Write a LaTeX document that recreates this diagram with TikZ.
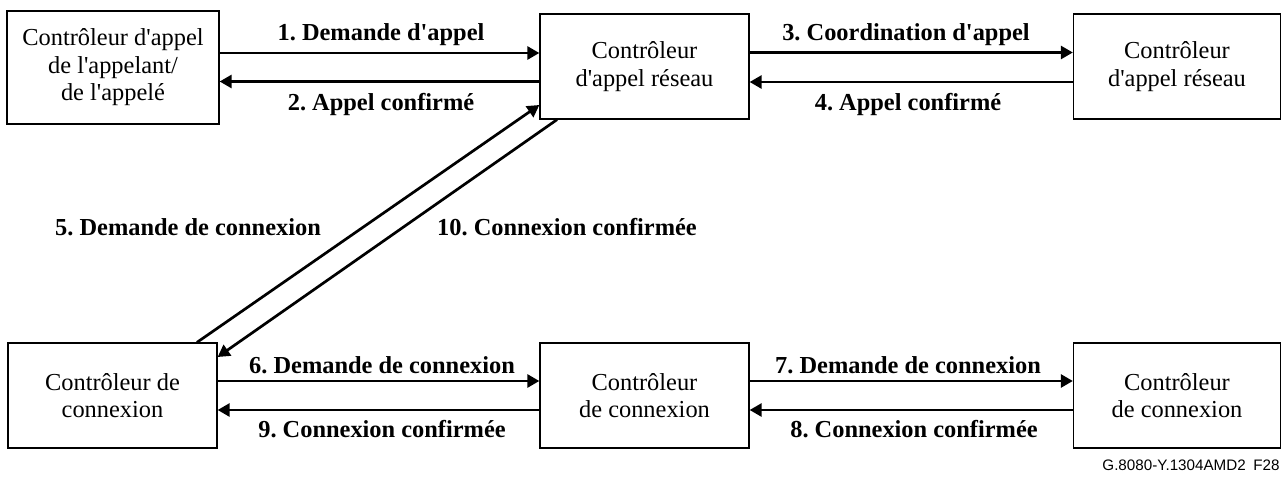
\documentclass[tikz,border=0pt]{standalone}
\usepackage{fontspec}
\setmainfont{Liberation Serif}[Ligatures=TeXOff]
\setsansfont{Liberation Sans}[Ligatures=TeXOff]
\usetikzlibrary{arrows.meta}
\frenchspacing
\begin{document}
\begin{tikzpicture}[x=0.5pt,y=-0.5pt,
  box/.style={draw, line width=0.65pt, inner sep=0pt, align=center,
    minimum height=52.5pt, font=\fontsize{12.2}{13.8}\selectfont},
  msg/.style={anchor=base, inner sep=0pt, font=\fontsize{12.2}{14}\selectfont\bfseries},
  flow/.style={line width=1.35pt, -{Triangle[length=6pt,width=6.5pt]}}]
\useasboundingbox (0,0) rectangle (1282,477);

% controllers
\node[box, minimum width=106pt, minimum height=56.5pt] (A) at (113,67.5)
  {Contrôleur d'appel\\de l'appelant/\\de l'appelé};
\node[box, minimum width=104.5pt] (B) at (644.5,66.5) {Contrôleur\\d'appel réseau};
\node[box, minimum width=103.5pt] (C) at (1177,66.5) {Contrôleur\\d'appel réseau};
\node[box, minimum width=104.5pt] (D) at (112.5,395.5) {Contrôleur de\\connexion};
\node[box, minimum width=104.5pt] (E) at (644.5,395.5) {Contrôleur\\de connexion};
\node[box, minimum width=103.5pt] (F) at (1177,395.5) {Contrôleur\\de connexion};

% messages
\draw[flow] (A.east |- 0,53) -- (B.west |- 0,53);
\draw[flow] (B.west |- 0,81.5) -- (A.east |- 0,81.5);
\draw[flow] (B.east |- 0,52.5) -- (C.west |- 0,52.5);
\draw[flow] (C.west |- 0,82) -- (B.east |- 0,82);
\draw[flow] (D.north -| 197,0) -- (B.west |- 0,105);
\draw[flow] (B.south -| 557,0) -- (D.east |- 0,357);
\draw[flow] (D.east |- 0,381) -- (E.west |- 0,381);
\draw[flow] (E.west |- 0,410) -- (D.east |- 0,410);
\draw[flow] (E.east |- 0,381) -- (F.west |- 0,381);
\draw[flow] (F.west |- 0,410) -- (E.east |- 0,410);

% message labels
\node[msg] (m1) at (381,40) {1. Demande d'appel};
\node[msg] (m2) at (381,110) {2. Appel confirmé};
\node[msg] (m3) at (906,40) {3. Coordination d'appel};
\node[msg] (m4) at (908,110) {4. Appel confirmé};
\node[msg] (m5) at (188,235) {5. Demande de connexion};
\node[msg] (m10) at (567,235) {10. Connexion confirmée};
\node[msg] (m6) at (382,373) {6. Demande de connexion};
\node[msg] (m9) at (382,437) {9. Connexion confirmée};
\node[msg] (m7) at (908,373) {7. Demande de connexion};
\node[msg] (m8) at (914,437) {8. Connexion confirmée};

% figure reference
\node[anchor=base east, inner sep=0pt, font=\sffamily\fontsize{7.6}{9}\selectfont]
  (ref) at (1280,470) {G.8080-Y.1304AMD2\hspace{0.5em}F28};
\end{tikzpicture}
\end{document}
